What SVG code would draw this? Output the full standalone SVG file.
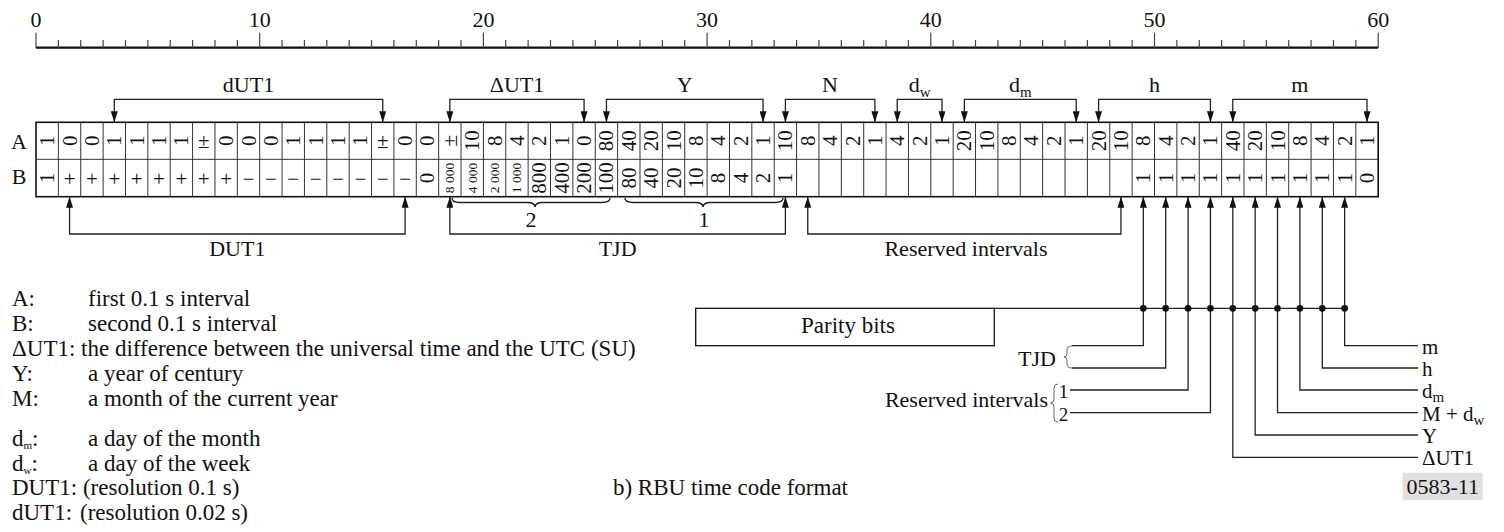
<svg xmlns="http://www.w3.org/2000/svg" width="1504" height="532" viewBox="0 0 1504 532">
  <style>
    text { font-family: "Liberation Serif", "Times New Roman", serif; fill: #111; }
    .lbl { font-size: 22px; text-anchor: middle; }
    .lbl-end { font-size: 22px; text-anchor: end; }
    .lbl-start { font-size: 21px; text-anchor: start; }
    .sub { font-size: 15px; }
    .tiny { font-size: 11px; }
    .leg { font-size: 23px; }
    .cap { font-size: 23px; text-anchor: end; }
    .v { font-size: 21px; text-anchor: middle; dominant-baseline: central; }
    .vs { font-size: 13.5px; text-anchor: middle; dominant-baseline: central; }
    .h { font-size: 21px; text-anchor: middle; }
    .grid-outer { fill: none; stroke: #111; stroke-width: 1.6; }
    .grid-line { stroke: #333; stroke-width: 1; }
    .conn { fill: none; stroke: #222; stroke-width: 1.3; }
    .brace { fill: none; stroke: #222; stroke-width: 1.4; }
    .thin-brace { fill: none; stroke: #666; stroke-width: 1; }
    .tick { stroke: #444; stroke-width: 1.2; }
    .dot { fill: #111; }
  </style>
  <defs>
    <marker id="arrow" markerUnits="userSpaceOnUse" markerWidth="11" markerHeight="7" refX="11" refY="3.5" orient="auto-start-reverse">
      <path d="M0,0 L11,3.5 L0,7 z" fill="#111"/>
    </marker>
  </defs>

  <!-- time scale, seconds 0..60 -->
  <g id="scale">
    <line x1="36" y1="47.7" x2="1378.2" y2="47.7" stroke="#111" stroke-width="2.2"/>
    <path class="tick" d="M36,32.7V47.7 M58.37,40V47.7 M80.74,40V47.7 M103.11,40V47.7 M125.48,40V47.7 M147.85,40V47.7 M170.22,40V47.7 M192.59,40V47.7 M214.96,40V47.7 M237.33,40V47.7
      M259.7,32.7V47.7 M282.07,40V47.7 M304.44,40V47.7 M326.81,40V47.7 M349.18,40V47.7 M371.55,40V47.7 M393.92,40V47.7 M416.29,40V47.7 M438.66,40V47.7 M461.03,40V47.7
      M483.4,32.7V47.7 M505.77,40V47.7 M528.14,40V47.7 M550.51,40V47.7 M572.88,40V47.7 M595.25,40V47.7 M617.62,40V47.7 M639.99,40V47.7 M662.36,40V47.7 M684.73,40V47.7
      M707.1,32.7V47.7 M729.47,40V47.7 M751.84,40V47.7 M774.21,40V47.7 M796.58,40V47.7 M818.95,40V47.7 M841.32,40V47.7 M863.69,40V47.7 M886.06,40V47.7 M908.43,40V47.7
      M930.8,32.7V47.7 M953.17,40V47.7 M975.54,40V47.7 M997.91,40V47.7 M1020.28,40V47.7 M1042.65,40V47.7 M1065.02,40V47.7 M1087.39,40V47.7 M1109.76,40V47.7 M1132.13,40V47.7
      M1154.5,32.7V47.7 M1176.87,40V47.7 M1199.24,40V47.7 M1221.61,40V47.7 M1243.98,40V47.7 M1266.35,40V47.7 M1288.72,40V47.7 M1311.09,40V47.7 M1333.46,40V47.7 M1355.83,40V47.7
      M1378.2,32.7V47.7"/>
    <text class="lbl" x="36" y="27">0</text>
    <text class="lbl" x="259.7" y="27">10</text>
    <text class="lbl" x="483.4" y="27">20</text>
    <text class="lbl" x="707.1" y="27">30</text>
    <text class="lbl" x="930.8" y="27">40</text>
    <text class="lbl" x="1154.5" y="27">50</text>
    <text class="lbl" x="1378.2" y="27">60</text>
  </g>

  <!-- code grid: row A (first 0.1 s) and row B (second 0.1 s) -->
  <g id="grid">
    <rect class="grid-outer" x="36" y="122.3" width="1342.2" height="74.4"/>
    <line class="grid-line" x1="36" y1="159.3" x2="1378.2" y2="159.3"/>
    <path class="grid-line" d="M58.37,122.3V196.7 M80.74,122.3V196.7 M103.11,122.3V196.7 M125.48,122.3V196.7 M147.85,122.3V196.7 M170.22,122.3V196.7 M192.59,122.3V196.7 M214.96,122.3V196.7 M237.33,122.3V196.7
      M259.7,122.3V196.7 M282.07,122.3V196.7 M304.44,122.3V196.7 M326.81,122.3V196.7 M349.18,122.3V196.7 M371.55,122.3V196.7 M393.92,122.3V196.7 M416.29,122.3V196.7 M438.66,122.3V196.7 M461.03,122.3V196.7
      M483.4,122.3V196.7 M505.77,122.3V196.7 M528.14,122.3V196.7 M550.51,122.3V196.7 M572.88,122.3V196.7 M595.25,122.3V196.7 M617.62,122.3V196.7 M639.99,122.3V196.7 M662.36,122.3V196.7 M684.73,122.3V196.7
      M707.1,122.3V196.7 M729.47,122.3V196.7 M751.84,122.3V196.7 M774.21,122.3V196.7 M796.58,122.3V196.7 M818.95,122.3V196.7 M841.32,122.3V196.7 M863.69,122.3V196.7 M886.06,122.3V196.7 M908.43,122.3V196.7
      M930.8,122.3V196.7 M953.17,122.3V196.7 M975.54,122.3V196.7 M997.91,122.3V196.7 M1020.28,122.3V196.7 M1042.65,122.3V196.7 M1065.02,122.3V196.7 M1087.39,122.3V196.7 M1109.76,122.3V196.7 M1132.13,122.3V196.7
      M1154.5,122.3V196.7 M1176.87,122.3V196.7 M1199.24,122.3V196.7 M1221.61,122.3V196.7 M1243.98,122.3V196.7 M1266.35,122.3V196.7 M1288.72,122.3V196.7 M1311.09,122.3V196.7 M1333.46,122.3V196.7 M1355.83,122.3V196.7"/>
    <text class="lbl" x="19" y="149">A</text>
    <text class="lbl" x="19" y="184">B</text>
  </g>

  <!-- row A values -->
  <g id="row-a">
    <text class="v" transform="translate(47.19 140.8) rotate(-90)">1</text>
    <text class="v" transform="translate(69.56 140.8) rotate(-90)">0</text>
    <text class="v" transform="translate(91.93 140.8) rotate(-90)">0</text>
    <text class="v" transform="translate(114.3 140.8) rotate(-90)">1</text>
    <text class="v" transform="translate(136.67 140.8) rotate(-90)">1</text>
    <text class="v" transform="translate(159.04 140.8) rotate(-90)">1</text>
    <text class="v" transform="translate(181.41 140.8) rotate(-90)">1</text>
    <text class="h" x="203.78" y="147.5">±</text>
    <text class="v" transform="translate(226.15 140.8) rotate(-90)">0</text>
    <text class="v" transform="translate(248.52 140.8) rotate(-90)">0</text>
    <text class="v" transform="translate(270.89 140.8) rotate(-90)">0</text>
    <text class="v" transform="translate(293.26 140.8) rotate(-90)">1</text>
    <text class="v" transform="translate(315.63 140.8) rotate(-90)">1</text>
    <text class="v" transform="translate(338 140.8) rotate(-90)">1</text>
    <text class="v" transform="translate(360.37 140.8) rotate(-90)">1</text>
    <text class="h" x="382.74" y="147.5">±</text>
    <text class="v" transform="translate(405.11 140.8) rotate(-90)">0</text>
    <text class="v" transform="translate(427.48 140.8) rotate(-90)">0</text>
    <text class="v" transform="translate(449.85 140.8) rotate(-90)">±</text>
    <text class="v" transform="translate(472.22 140.8) rotate(-90)">10</text>
    <text class="v" transform="translate(494.59 140.8) rotate(-90)">8</text>
    <text class="v" transform="translate(516.96 140.8) rotate(-90)">4</text>
    <text class="v" transform="translate(539.33 140.8) rotate(-90)">2</text>
    <text class="v" transform="translate(561.7 140.8) rotate(-90)">1</text>
    <text class="v" transform="translate(584.07 140.8) rotate(-90)">0</text>
    <text class="v" transform="translate(606.44 140.8) rotate(-90)">80</text>
    <text class="v" transform="translate(628.81 140.8) rotate(-90)">40</text>
    <text class="v" transform="translate(651.18 140.8) rotate(-90)">20</text>
    <text class="v" transform="translate(673.55 140.8) rotate(-90)">10</text>
    <text class="v" transform="translate(695.92 140.8) rotate(-90)">8</text>
    <text class="v" transform="translate(718.29 140.8) rotate(-90)">4</text>
    <text class="v" transform="translate(740.66 140.8) rotate(-90)">2</text>
    <text class="v" transform="translate(763.03 140.8) rotate(-90)">1</text>
    <text class="v" transform="translate(785.4 140.8) rotate(-90)">10</text>
    <text class="v" transform="translate(807.77 140.8) rotate(-90)">8</text>
    <text class="v" transform="translate(830.14 140.8) rotate(-90)">4</text>
    <text class="v" transform="translate(852.51 140.8) rotate(-90)">2</text>
    <text class="v" transform="translate(874.88 140.8) rotate(-90)">1</text>
    <text class="v" transform="translate(897.25 140.8) rotate(-90)">4</text>
    <text class="v" transform="translate(919.62 140.8) rotate(-90)">2</text>
    <text class="v" transform="translate(941.99 140.8) rotate(-90)">1</text>
    <text class="v" transform="translate(964.36 140.8) rotate(-90)">20</text>
    <text class="v" transform="translate(986.73 140.8) rotate(-90)">10</text>
    <text class="v" transform="translate(1009.1 140.8) rotate(-90)">8</text>
    <text class="v" transform="translate(1031.47 140.8) rotate(-90)">4</text>
    <text class="v" transform="translate(1053.84 140.8) rotate(-90)">2</text>
    <text class="v" transform="translate(1076.21 140.8) rotate(-90)">1</text>
    <text class="v" transform="translate(1098.58 140.8) rotate(-90)">20</text>
    <text class="v" transform="translate(1120.95 140.8) rotate(-90)">10</text>
    <text class="v" transform="translate(1143.32 140.8) rotate(-90)">8</text>
    <text class="v" transform="translate(1165.69 140.8) rotate(-90)">4</text>
    <text class="v" transform="translate(1188.06 140.8) rotate(-90)">2</text>
    <text class="v" transform="translate(1210.43 140.8) rotate(-90)">1</text>
    <text class="v" transform="translate(1232.8 140.8) rotate(-90)">40</text>
    <text class="v" transform="translate(1255.17 140.8) rotate(-90)">20</text>
    <text class="v" transform="translate(1277.54 140.8) rotate(-90)">10</text>
    <text class="v" transform="translate(1299.91 140.8) rotate(-90)">8</text>
    <text class="v" transform="translate(1322.28 140.8) rotate(-90)">4</text>
    <text class="v" transform="translate(1344.65 140.8) rotate(-90)">2</text>
    <text class="v" transform="translate(1367.02 140.8) rotate(-90)">1</text>
  </g>

  <!-- row B values -->
  <g id="row-b">
    <text class="v" transform="translate(47.19 178) rotate(-90)">1</text>
    <text class="h" x="69.56" y="185.5">+</text>
    <text class="h" x="91.93" y="185.5">+</text>
    <text class="h" x="114.3" y="185.5">+</text>
    <text class="h" x="136.67" y="185.5">+</text>
    <text class="h" x="159.04" y="185.5">+</text>
    <text class="h" x="181.41" y="185.5">+</text>
    <text class="h" x="203.78" y="185.5">+</text>
    <text class="h" x="226.15" y="185.5">+</text>
    <text class="h" x="248.52" y="185.5">−</text>
    <text class="h" x="270.89" y="185.5">−</text>
    <text class="h" x="293.26" y="185.5">−</text>
    <text class="h" x="315.63" y="185.5">−</text>
    <text class="h" x="338" y="185.5">−</text>
    <text class="h" x="360.37" y="185.5">−</text>
    <text class="h" x="382.74" y="185.5">−</text>
    <text class="h" x="405.11" y="185.5">−</text>
    <text class="v" transform="translate(427.48 178) rotate(-90)">0</text>
    <text class="vs" transform="translate(449.85 178) rotate(-90)">8 000</text>
    <text class="vs" transform="translate(472.22 178) rotate(-90)">4 000</text>
    <text class="vs" transform="translate(494.59 178) rotate(-90)">2 000</text>
    <text class="vs" transform="translate(516.96 178) rotate(-90)">1 000</text>
    <text class="v" transform="translate(539.33 178) rotate(-90)">800</text>
    <text class="v" transform="translate(561.7 178) rotate(-90)">400</text>
    <text class="v" transform="translate(584.07 178) rotate(-90)">200</text>
    <text class="v" transform="translate(606.44 178) rotate(-90)">100</text>
    <text class="v" transform="translate(628.81 178) rotate(-90)">80</text>
    <text class="v" transform="translate(651.18 178) rotate(-90)">40</text>
    <text class="v" transform="translate(673.55 178) rotate(-90)">20</text>
    <text class="v" transform="translate(695.92 178) rotate(-90)">10</text>
    <text class="v" transform="translate(718.29 178) rotate(-90)">8</text>
    <text class="v" transform="translate(740.66 178) rotate(-90)">4</text>
    <text class="v" transform="translate(763.03 178) rotate(-90)">2</text>
    <text class="v" transform="translate(785.4 178) rotate(-90)">1</text>
    <text class="v" transform="translate(1143.32 178) rotate(-90)">1</text>
    <text class="v" transform="translate(1165.69 178) rotate(-90)">1</text>
    <text class="v" transform="translate(1188.06 178) rotate(-90)">1</text>
    <text class="v" transform="translate(1210.43 178) rotate(-90)">1</text>
    <text class="v" transform="translate(1232.8 178) rotate(-90)">1</text>
    <text class="v" transform="translate(1255.17 178) rotate(-90)">1</text>
    <text class="v" transform="translate(1277.54 178) rotate(-90)">1</text>
    <text class="v" transform="translate(1299.91 178) rotate(-90)">1</text>
    <text class="v" transform="translate(1322.28 178) rotate(-90)">1</text>
    <text class="v" transform="translate(1344.65 178) rotate(-90)">1</text>
    <text class="v" transform="translate(1367.02 178) rotate(-90)">0</text>
  </g>

  <!-- field labels above the grid -->
  <g id="fields-top">
    <text class="lbl" x="248.5" y="92">dUT1</text>
    <text class="lbl" x="517" y="92">ΔUT1</text>
    <text class="lbl" x="684.7" y="92">Y</text>
    <text class="lbl" x="830" y="92">N</text>
    <text class="lbl" x="919.6" y="92">d<tspan class="sub" dy="5">w</tspan></text>
    <text class="lbl" x="1020.3" y="92">d<tspan class="sub" dy="5">m</tspan></text>
    <text class="lbl" x="1154.5" y="92">h</text>
    <text class="lbl" x="1299.9" y="92">m</text>
  </g>

  <!-- field labels below the grid -->
  <g id="fields-bottom">
    <path class="brace" d="M452,198 Q452,202.5 460,202.5 L527,202.5 Q535,202.5 535,207 Q535,202.5 543,202.5 L602,202.5 Q610,202.5 610,198"/>
    <path class="brace" d="M625,198 Q625,202.5 633,202.5 L695,202.5 Q703,202.5 703,207 Q703,202.5 711,202.5 L775,202.5 Q783,202.5 783,198"/>
    <text class="lbl" x="531" y="227">2</text>
    <text class="lbl" x="704" y="227">1</text>
    <text class="lbl" x="237.3" y="256">DUT1</text>
    <text class="lbl" x="617.6" y="256">TJD</text>
    <text class="lbl" x="966" y="256">Reserved intervals</text>
  </g>

  <!-- parity bits block -->
  <g id="parity">
    <rect x="695.7" y="308.3" width="298.6" height="37.4" fill="none" stroke="#111" stroke-width="1.3"/>
    <text class="lbl" x="848" y="333" style="font-size:23px">Parity bits</text>
  </g>

  <!-- parity coverage labels -->
  <g id="parity-targets">
    <text class="lbl-end" x="1056" y="366">TJD</text>
    <path class="thin-brace" d="M1072,346 Q1067,346 1067,350 L1067,353.5 Q1067,357 1064,357 Q1067,357 1067,360.5 L1067,364 Q1067,368 1072,368"/>
    <text class="lbl-end" x="1048" y="407">Reserved intervals</text>
    <path class="thin-brace" d="M1058,384 Q1054,384 1054,388 L1054,399 Q1054,403 1050.5,403 Q1054,403 1054,407 L1054,418 Q1054,422 1058,422"/>
    <text class="lbl" x="1063.5" y="398" style="font-size:19px">1</text>
    <text class="lbl" x="1063.5" y="421" style="font-size:19px">2</text>
    <text class="lbl-start" x="1422" y="353.7">m</text>
    <text class="lbl-start" x="1422" y="376">h</text>
    <text class="lbl-start" x="1422" y="397.5">d<tspan class="sub" dy="4">m</tspan></text>
    <text class="lbl-start" x="1422" y="420.7">M + d<tspan class="sub" dy="4">w</tspan></text>
    <text class="lbl-start" x="1422" y="443">Y</text>
    <text class="lbl-start" x="1422" y="465.3">ΔUT1</text>
  </g>

  <!-- connectors -->
  <g id="connectors">
    <!-- brackets above the grid -->
    <path class="conn" marker-start="url(#arrow)" marker-end="url(#arrow)" d="M114.3,122.3V99.3H382.74V122.3"/>
    <path class="conn" marker-start="url(#arrow)" marker-end="url(#arrow)" d="M449.85,122.3V99.3H584.07V122.3"/>
    <path class="conn" marker-start="url(#arrow)" marker-end="url(#arrow)" d="M606.44,122.3V99.3H763.03V122.3"/>
    <path class="conn" marker-start="url(#arrow)" marker-end="url(#arrow)" d="M785.4,122.3V99.3H874.88V122.3"/>
    <path class="conn" marker-start="url(#arrow)" marker-end="url(#arrow)" d="M897.25,122.3V99.3H941.99V122.3"/>
    <path class="conn" marker-start="url(#arrow)" marker-end="url(#arrow)" d="M964.36,122.3V99.3H1076.21V122.3"/>
    <path class="conn" marker-start="url(#arrow)" marker-end="url(#arrow)" d="M1098.58,122.3V99.3H1210.43V122.3"/>
    <path class="conn" marker-start="url(#arrow)" marker-end="url(#arrow)" d="M1232.8,122.3V99.3H1367.02V122.3"/>
    <!-- brackets below the grid -->
    <path class="conn" marker-start="url(#arrow)" marker-end="url(#arrow)" d="M69.56,196.7V234H405.11V196.7"/>
    <path class="conn" marker-start="url(#arrow)" marker-end="url(#arrow)" d="M449.85,196.7V234H785.4V196.7"/>
    <path class="conn" marker-start="url(#arrow)" marker-end="url(#arrow)" d="M807.77,196.7V234H1120.95V196.7"/>
    <!-- parity bus -->
    <line class="conn" x1="994.3" y1="308.3" x2="1344.65" y2="308.3"/>
    <!-- parity bit feeds -->
    <path class="conn" marker-start="url(#arrow)" d="M1143.32,196.7V345.7H1072"/>
    <path class="conn" marker-start="url(#arrow)" d="M1165.69,196.7V368H1072"/>
    <path class="conn" marker-start="url(#arrow)" d="M1188.06,196.7V390H1070"/>
    <path class="conn" marker-start="url(#arrow)" d="M1210.43,196.7V412.7H1070"/>
    <path class="conn" marker-start="url(#arrow)" d="M1232.8,196.7V457.3H1418"/>
    <path class="conn" marker-start="url(#arrow)" d="M1255.17,196.7V435H1418"/>
    <path class="conn" marker-start="url(#arrow)" d="M1277.54,196.7V412.7H1418"/>
    <path class="conn" marker-start="url(#arrow)" d="M1299.91,196.7V390H1418"/>
    <path class="conn" marker-start="url(#arrow)" d="M1322.28,196.7V368H1418"/>
    <path class="conn" marker-start="url(#arrow)" d="M1344.65,196.7V345.7H1418"/>
    <circle class="dot" cx="1143.32" cy="308.3" r="3.4"/>
    <circle class="dot" cx="1165.69" cy="308.3" r="3.4"/>
    <circle class="dot" cx="1188.06" cy="308.3" r="3.4"/>
    <circle class="dot" cx="1210.43" cy="308.3" r="3.4"/>
    <circle class="dot" cx="1232.8" cy="308.3" r="3.4"/>
    <circle class="dot" cx="1255.17" cy="308.3" r="3.4"/>
    <circle class="dot" cx="1277.54" cy="308.3" r="3.4"/>
    <circle class="dot" cx="1299.91" cy="308.3" r="3.4"/>
    <circle class="dot" cx="1322.28" cy="308.3" r="3.4"/>
    <circle class="dot" cx="1344.65" cy="308.3" r="3.4"/>
  </g>

  <!-- legend -->
  <g id="legend">
    <text class="leg" x="12" y="306">A:</text>
    <text class="leg" x="88" y="306">first 0.1 s interval</text>
    <text class="leg" x="12" y="331">B:</text>
    <text class="leg" x="88" y="331">second 0.1 s interval</text>
    <text class="leg" x="12" y="356">ΔUT1: the difference between the universal time and the UTC (SU)</text>
    <text class="leg" x="12" y="381">Y:</text>
    <text class="leg" x="88" y="381">a year of century</text>
    <text class="leg" x="12" y="406">M:</text>
    <text class="leg" x="88" y="406">a month of the current year</text>
    <text class="leg" x="12" y="446">d<tspan class="tiny" dy="3">m</tspan><tspan dy="-3">:</tspan></text>
    <text class="leg" x="88" y="446">a day of the month</text>
    <text class="leg" x="12" y="471">d<tspan class="tiny" dy="3">w</tspan><tspan dy="-3">:</tspan></text>
    <text class="leg" x="88" y="471">a day of the week</text>
    <text class="leg" x="12" y="495">DUT1: (resolution 0.1 s)</text>
    <text class="leg" x="12" y="520">dUT1:</text>
    <text class="leg" x="80" y="520">(resolution 0.02 s)</text>
  </g>

  <!-- caption and figure number -->
  <g id="caption">
    <text class="cap" x="848" y="495">b) RBU time code format</text>
    <rect x="1402.7" y="472.7" width="80" height="27.3" fill="#e0e0e0"/>
    <text class="lbl" x="1442.7" y="494">0583-11</text>
  </g>
</svg>
